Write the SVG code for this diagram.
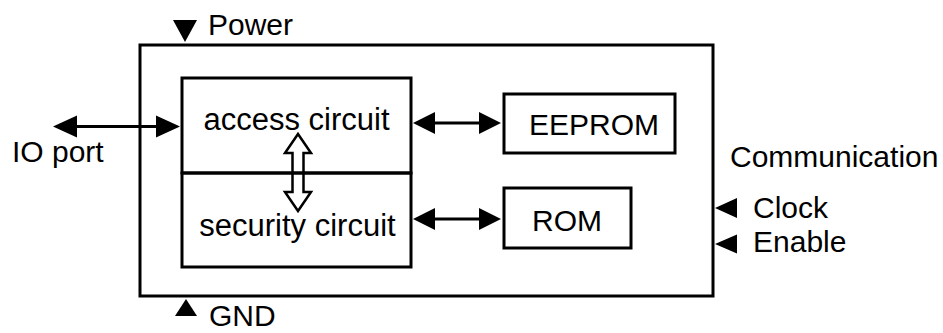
<svg xmlns="http://www.w3.org/2000/svg" width="943" height="333" viewBox="0 0 943 333">
<style>
.box{fill:none;stroke:#000;stroke-width:3}
.t{font-family:"Liberation Sans",Arial,sans-serif;font-size:30px;fill:#000}
.b{font-size:31px}
.m{text-anchor:middle}
.ln{stroke:#000;stroke-width:3;fill:none}
.tri{fill:#000}
</style>
<rect width="943" height="333" fill="#fff"/>
<g id="chip">
<rect class="box" x="140" y="45" width="573" height="251"/>
</g>
<g id="power">
<polygon class="tri" points="173,20 197,20 185,42"/>
<text class="t" x="208" y="35">Power</text>
</g>
<g id="gnd">
<polygon class="tri" points="175,316 197,316 186,299"/>
<text class="t" x="209" y="326">GND</text>
</g>
<g id="ioport">
<text class="t" x="12" y="162">IO port</text>
</g>
<g id="communication">
<text class="t" x="730" y="167">Communication</text>
<polygon class="tri" points="715,208 737,198 737,218"/>
<text class="t" x="753" y="218">Clock</text>
<polygon class="tri" points="715,244 737,234.5 737,253.5"/>
<text class="t" x="753" y="252">Enable</text>
</g>
<g id="access-circuit">
<rect class="box" x="182" y="78" width="229" height="95"/>
<text class="t b m" x="296.5" y="130">access circuit</text>
</g>
<g id="security-circuit">
<rect class="box" x="182" y="173" width="229" height="94"/>
<text class="t b m" x="297.5" y="236">security circuit</text>
</g>
<g id="eeprom">
<rect class="box" x="504" y="94" width="171" height="59"/>
<text class="t m" x="594" y="135">EEPROM</text>
</g>
<g id="rom">
<rect class="box" x="504" y="188" width="127" height="60"/>
<text class="t m" x="567" y="231">ROM</text>
</g>
<g id="connectors">
<line class="ln" x1="70" y1="126.5" x2="162" y2="126.5"/>
<polygon class="tri" points="53,126.5 77,115.5 77,137.5"/>
<polygon class="tri" points="180,126.5 156,115.5 156,137.5"/>
<line class="ln" x1="430" y1="123" x2="484" y2="123"/>
<polygon class="tri" points="413,123 435,112 435,134"/>
<polygon class="tri" points="501,123 479,112 479,134"/>
<line class="ln" x1="430" y1="219" x2="484" y2="219"/>
<polygon class="tri" points="413,219 435,208 435,230"/>
<polygon class="tri" points="501,219 479,208 479,230"/>
<polygon points="298,134 311,153 303.5,153 303.5,192 311,192 298,211 285,192 292.5,192 292.5,153 285,153" fill="none" stroke="#000" stroke-width="2.5" stroke-linejoin="miter"/>
</g>
</svg>
